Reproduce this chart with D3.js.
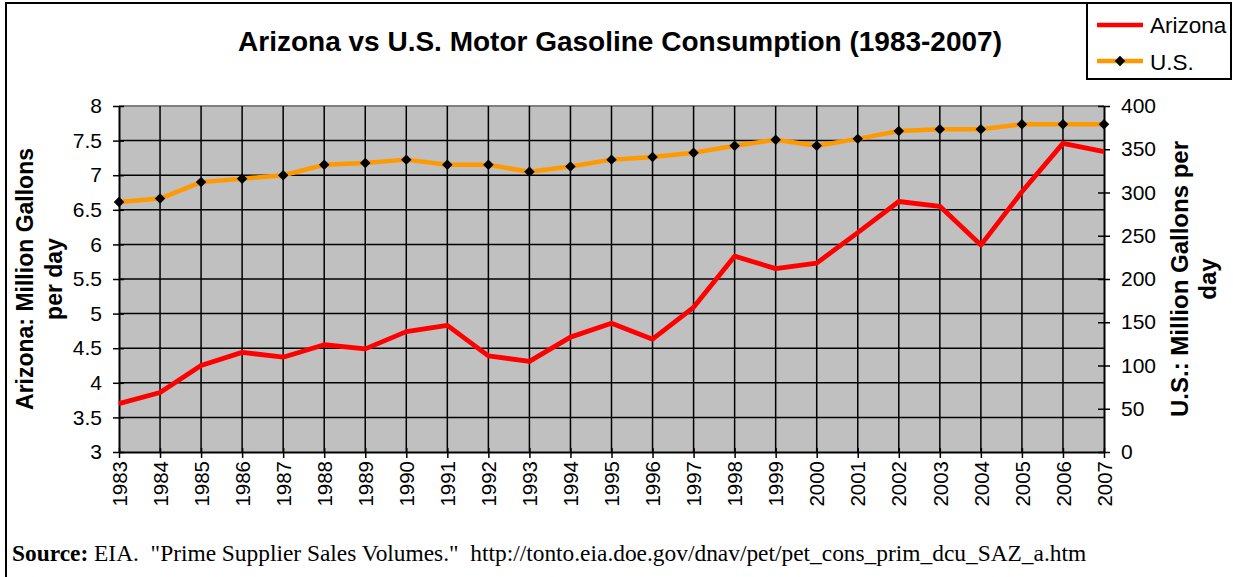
<!DOCTYPE html>
<html lang="en">
<head>
  <meta charset="UTF-8">
  <title>Arizona vs U.S. Motor Gasoline Consumption</title>
  <script src="https://d3js.org/d3.v7.min.js"></script>
  <style>
    body { margin: 0; background: #fff; }
    svg { display: block; font-family: Arial, "Liberation Sans", sans-serif; }
  </style>
</head>
<body>
<svg width="1233" height="577"></svg>
<script>
  // data
  var years = [1983, 1984, 1985, 1986, 1987, 1988, 1989, 1990, 1991, 1992, 1993, 1994, 1995,
               1996, 1997, 1998, 1999, 2000, 2001, 2002, 2003, 2004, 2005, 2006, 2007];
  // Arizona, million gallons per day (left axis)
  var arizona = [3.70, 3.86, 4.25, 4.44, 4.37, 4.55, 4.49, 4.74, 4.83, 4.39, 4.31, 4.66, 4.86,
                 4.63, 5.09, 5.83, 5.65, 5.73, 6.17, 6.62, 6.55, 5.99, 6.76, 7.46, 7.34];
  // U.S., million gallons per day (right axis)
  var us = [289, 293, 312, 316, 320, 332, 334, 338, 332, 332, 324, 330, 338,
            341, 346, 354, 361, 354, 362, 371, 373, 373, 379, 379, 379];
  var leftTicks = [3, 3.5, 4, 4.5, 5, 5.5, 6, 6.5, 7, 7.5, 8];
  var rightTicks = [0, 50, 100, 150, 200, 250, 300, 350, 400];

  var svg = d3.select('svg');
  var plot = { left: 119, right: 1104, top: 106, bottom: 452 };

  // frame around the chart
  svg.append('path')
    .attr('d', 'M6,577 V3 H1087')
    .attr('fill', 'none')
    .attr('stroke', '#000')
    .attr('stroke-width', 2);

  var x = d3.scalePoint().domain(years).range([plot.left, plot.right]);
  var yL = d3.scaleLinear().domain([3, 8]).range([plot.bottom, plot.top]);
  var yR = d3.scaleLinear().domain([0, 400]).range([plot.bottom, plot.top]);

  // plot area
  svg.append('rect')
    .attr('x', plot.left).attr('y', plot.top)
    .attr('width', plot.right - plot.left).attr('height', plot.bottom - plot.top)
    .attr('fill', '#c0c0c0');
  svg.append('line')
    .attr('x1', plot.left).attr('x2', plot.right)
    .attr('y1', plot.top).attr('y2', plot.top)
    .attr('stroke', '#808080').attr('stroke-width', 2);

  // grid
  var grid = svg.append('g').attr('stroke', '#000').attr('stroke-width', 1.5);
  grid.selectAll('.h').data(leftTicks.slice(1, -1)).enter().append('line')
    .attr('x1', plot.left).attr('x2', plot.right)
    .attr('y1', function (d) { return yL(d); })
    .attr('y2', function (d) { return yL(d); });
  grid.selectAll('.v').data(years.slice(1, -1)).enter().append('line')
    .attr('y1', plot.top).attr('y2', plot.bottom)
    .attr('x1', function (d) { return x(d); })
    .attr('x2', function (d) { return x(d); });

  // axes
  var axisL = d3.axisLeft(yL).tickValues(leftTicks).tickFormat(d3.format('~g'))
    .tickSizeInner(5).tickSizeOuter(0).tickPadding(10);
  var axisR = d3.axisRight(yR).tickValues(rightTicks).tickSizeInner(5).tickSizeOuter(0).tickPadding(10);
  var axisB = d3.axisBottom(x).tickSizeInner(5).tickSizeOuter(0).tickPadding(8);

  function styleAxis(g) {
    g.select('.domain').attr('stroke', '#000').attr('stroke-width', 2);
    g.selectAll('.tick line').attr('stroke', '#000').attr('stroke-width', 1.5);
    g.selectAll('.tick text').attr('fill', '#000').style('font-size', '21px')
      .style('font-family', 'Arial, "Liberation Sans", sans-serif');
  }

  var gL = svg.append('g').attr('transform', 'translate(' + plot.left + ',0)').call(axisL).call(styleAxis);
  gL.selectAll('.tick line').attr('x2', 5).attr('x1', -6);
  gL.selectAll('.tick text').attr('x', -17);
  var gR = svg.append('g').attr('transform', 'translate(' + plot.right + ',0)').call(axisR).call(styleAxis);
  gR.selectAll('.tick line').attr('x1', -6).attr('x2', 6);
  gR.selectAll('.tick text').attr('x', 17);
  var gB = svg.append('g').attr('transform', 'translate(0,' + plot.bottom + ')').call(axisB).call(styleAxis);
  gB.selectAll('.tick line').attr('y1', -4).attr('y2', 6);
  gB.selectAll('.tick text')
    .style('font-size', '20.5px')
    .attr('transform', 'rotate(-90)')
    .attr('text-anchor', 'end')
    .attr('x', -9).attr('y', 0).attr('dy', '0.35em');

  // series
  var lineAZ = d3.line()
    .x(function (d, i) { return x(years[i]); })
    .y(function (d) { return yL(d); });
  var lineUS = d3.line()
    .x(function (d, i) { return x(years[i]); })
    .y(function (d) { return yR(d); });

  svg.append('path').datum(us)
    .attr('d', lineUS).attr('fill', 'none')
    .attr('stroke', '#ff9900').attr('stroke-width', 4.5).attr('stroke-linejoin', 'round');
  svg.append('g').selectAll('path').data(us).enter().append('path')
    .attr('d', d3.symbol(d3.symbolDiamond2, 70))
    .attr('transform', function (d, i) { return 'translate(' + x(years[i]) + ',' + yR(d) + ')'; })
    .attr('fill', '#000');

  svg.append('path').datum(arizona)
    .attr('d', lineAZ).attr('fill', 'none')
    .attr('stroke', '#ff0000').attr('stroke-width', 4.8).attr('stroke-linejoin', 'round');

  // title
  svg.append('text')
    .attr('x', 620).attr('y', 51)
    .attr('text-anchor', 'middle')
    .style('font-size', '28px').style('font-weight', 'bold')
    .text('Arizona vs U.S. Motor Gasoline Consumption (1983-2007)');

  // axis titles
  var tL = svg.append('text')
    .attr('transform', 'translate(42,279) rotate(-90)')
    .attr('text-anchor', 'middle')
    .style('font-size', '23px').style('font-weight', 'bold');
  tL.append('tspan').attr('x', 0).attr('y', -9).text('Arizona: Million Gallons');
  tL.append('tspan').attr('x', 0).attr('y', 20).text('per day');

  var tR = svg.append('text')
    .attr('transform', 'translate(1196,279) rotate(-90)')
    .attr('text-anchor', 'middle')
    .style('font-size', '24px').style('font-weight', 'bold');
  tR.append('tspan').attr('x', 0).attr('y', -8).text('U.S.: Million Gallons per');
  tR.append('tspan').attr('x', 0).attr('y', 20).text('day');

  // legend
  var lg = svg.append('g');
  lg.append('rect')
    .attr('x', 1087).attr('y', 3).attr('width', 144).attr('height', 76)
    .attr('fill', '#fff').attr('stroke', '#000').attr('stroke-width', 2);
  lg.append('line').attr('x1', 1097).attr('x2', 1143).attr('y1', 25).attr('y2', 25)
    .attr('stroke', '#ff0000').attr('stroke-width', 4.5);
  lg.append('text').attr('x', 1150).attr('y', 33).style('font-size', '22.5px').text('Arizona');
  lg.append('line').attr('x1', 1097).attr('x2', 1143).attr('y1', 61).attr('y2', 61)
    .attr('stroke', '#ff9900').attr('stroke-width', 4.5);
  lg.append('path').attr('d', d3.symbol(d3.symbolDiamond2, 70))
    .attr('transform', 'translate(1120,61)').attr('fill', '#000');
  lg.append('text').attr('x', 1150).attr('y', 70).style('font-size', '22.5px').text('U.S.');

  // source note
  var src = svg.append('text')
    .attr('x', 12).attr('y', 561)
    .style('font-family', '"Liberation Serif", "Times New Roman", serif')
    .style('font-size', '23.4px')
    .style('white-space', 'pre');
  src.append('tspan').style('font-weight', 'bold').text('Source:');
  src.append('tspan')
    .text(' EIA.  "Prime Supplier Sales Volumes."  http://tonto.eia.doe.gov/dnav/pet/pet_cons_prim_dcu_SAZ_a.htm');
</script>
</body>
</html>
